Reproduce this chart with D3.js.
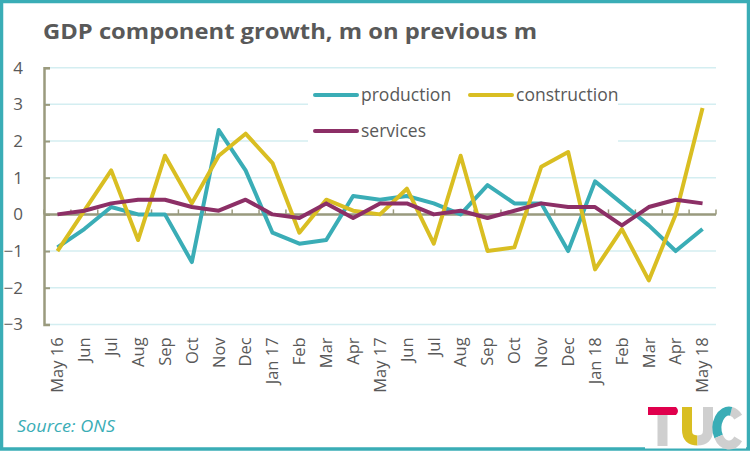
<!DOCTYPE html>
<html>
<head>
<meta charset="utf-8">
<script src="https://cdn.jsdelivr.net/npm/d3@7"></script>
<style>
body { margin:0; background:#fff; }
text { font-family:"Open Sans", sans-serif; fill:#595959; }
</style>
</head>
<body>
<div id="container"></div>
<script>
// months, May 2016 to May 2018
var months = ["May 16","Jun","Jul","Aug","Sep","Oct","Nov","Dec","Jan 17","Feb","Mar","Apr",
              "May 17","Jun","Jul","Aug","Sep","Oct","Nov","Dec","Jan 18","Feb","Mar","Apr","May 18"];
var production   = [-0.9,-0.4,0.2,0.0,0.0,-1.3,2.3,1.2,-0.5,-0.8,-0.7,0.5,0.4,0.5,0.3,0.0,0.8,0.3,0.3,-1.0,0.9,0.3,-0.3,-1.0,-0.4];
var construction = [-1.0,0.1,1.2,-0.7,1.6,0.3,1.6,2.2,1.4,-0.5,0.4,0.1,0.0,0.7,-0.8,1.6,-1.0,-0.9,1.3,1.7,-1.5,-0.4,-1.8,0.0,2.9];
var services     = [0.0,0.1,0.3,0.4,0.4,0.2,0.1,0.4,0.0,-0.1,0.3,-0.1,0.3,0.3,0.0,0.1,-0.1,0.1,0.3,0.2,0.2,-0.3,0.2,0.4,0.3];
var yTicks = [-3,-2,-1,0,1,2,3,4];

var seriesList = [
	{name:"production", values:production, color:"#3aadb6"},
	{name:"construction", values:construction, color:"#d9be22"},
	{name:"services", values:services, color:"#8c2f66"}
];

var W = 750, H = 451;
var svg = d3.select("#container").append("svg")
			.attr("width",W)
			.attr("height",H);

// frame
svg.append("rect").attr("x",1.5).attr("y",1.5).attr("width",W-3).attr("height",H-3.5)
	.attr("fill","#fff").attr("stroke","#3aadb6").attr("stroke-width",3.5);

svg.append("text").attr("x",43).attr("y",38.5)
	.attr("font-size",22).attr("font-weight",700)
	.attr("textLength",494).attr("lengthAdjust","spacingAndGlyphs")
	.text("GDP component growth, m on previous m");

var plotLeft = 44, plotRight = 716, plotTop = 67.7, plotBottom = 324.4;

var x = d3.scaleBand().domain(d3.range(months.length)).range([plotLeft,plotRight]);
var y = d3.scaleLinear().domain([-3,4]).range([plotBottom,plotTop]);

// gridlines
svg.append("g").selectAll("line").data(yTicks).enter().append("line")
	.attr("x1",plotLeft).attr("x2",plotRight)
	.attr("y1",function(d){return y(d);}).attr("y2",function(d){return y(d);})
	.attr("stroke","#d4eef1").attr("stroke-width",1.5);

// y axis
var yAxis = svg.append("g").attr("transform","translate("+plotLeft+",0)")
	.call(d3.axisRight(y).tickValues(yTicks).tickSize(6).tickFormat(d3.format("d")));
yAxis.select(".domain").attr("stroke","#9a9a7e").attr("stroke-width",2.5);
yAxis.selectAll(".tick line").attr("stroke","#9a9a7e").attr("stroke-width",2);
yAxis.selectAll(".tick text").attr("x",-21).attr("text-anchor","end")
	.attr("font-size",17).attr("fill","#595959").attr("font-family","Open Sans, sans-serif");

// x axis line at zero with boundary ticks
var xg = svg.append("g");
xg.append("line").attr("x1",plotLeft).attr("x2",plotRight).attr("y1",y(0)).attr("y2",y(0))
	.attr("stroke","#9a9a7e").attr("stroke-width",2.5);
xg.selectAll("line.tk").data(d3.range(months.length+1)).enter().append("line")
	.attr("class","tk")
	.attr("x1",function(d){return plotLeft + d*x.step();})
	.attr("x2",function(d){return plotLeft + d*x.step();})
	.attr("y1",y(0)-5).attr("y2",y(0))
	.attr("stroke","#9a9a7e").attr("stroke-width",1.5);

// x labels
var xAxis = svg.append("g").attr("transform","translate(0,"+plotBottom+")")
	.call(d3.axisBottom(x).tickSize(0).tickFormat(function(i){return months[i];}));
xAxis.select(".domain").remove();
xAxis.selectAll(".tick text")
	.attr("transform","rotate(-90)")
	.attr("text-anchor","end").attr("x",-13).attr("y",0).attr("dy","0.35em")
	.attr("font-size",16.5).attr("fill","#595959").attr("font-family","Open Sans, sans-serif");

// legend box
svg.append("rect").attr("x",308).attr("y",78).attr("width",310).attr("height",72).attr("fill","#fff");
var legendPos = [[315,95],[470,95],[315,131]];
seriesList.forEach(function(s,i){
	var p = legendPos[i];
	svg.append("line").attr("x1",p[0]).attr("x2",p[0]+42).attr("y1",p[1]).attr("y2",p[1])
		.attr("stroke",s.color).attr("stroke-width",4).attr("stroke-linecap","round");
	svg.append("text").attr("x",p[0]+46).attr("y",p[1]+6).attr("font-size",17.5).text(s.name);
});

// lines
var line = d3.line()
	.x(function(d,i){return x(i)+x.bandwidth()/2;})
	.y(function(d){return y(d);});
seriesList.forEach(function(s){
	svg.append("path").datum(s.values).attr("d",line)
		.attr("fill","none").attr("stroke",s.color).attr("stroke-width",4)
		.attr("stroke-linejoin","round");
});

// source
svg.append("text").attr("x",17).attr("y",432).attr("font-size",17)
	.attr("font-style","italic").attr("textLength",98).attr("lengthAdjust","spacingAndGlyphs")
	.style("fill","#3aadb6").text("Source: ONS");

// TUC logo
var logo = svg.append("g");
logo.append("rect").attr("x",645).attr("y",400).attr("width",101).attr("height",48.5).attr("fill","#fff");
logo.append("line").attr("x1",662.5).attr("x2",662.5).attr("y1",413).attr("y2",446).attr("stroke","#cfcfcf").attr("stroke-width",10);
logo.append("path").attr("d","M648,407 H676 Q680,411 676,415 H648 Z").attr("fill","#e0004d");
logo.append("path").attr("d","M687,407 V430 Q687,440.5 697.5,440.5").attr("fill","none").attr("stroke","#d9be22").attr("stroke-width",10);
logo.append("path").attr("d","M697.5,440.5 Q708,440.5 708,430 V407").attr("fill","none").attr("stroke","#cfcfcf").attr("stroke-width",10);
logo.append("path").attr("d","M738.2,417.1 A12,17 0 0 0 731.1,411.3").attr("fill","none").attr("stroke","#cfcfcf").attr("stroke-width",9);
logo.append("path").attr("d","M731.1,411.3 A12,17 0 0 0 718.6,436.5").attr("fill","none").attr("stroke","#3aadb6").attr("stroke-width",9);
logo.append("path").attr("d","M718.6,436.5 A12,17 0 0 0 738.2,438.9").attr("fill","none").attr("stroke","#cfcfcf").attr("stroke-width",9);
</script>
</body>
</html>
